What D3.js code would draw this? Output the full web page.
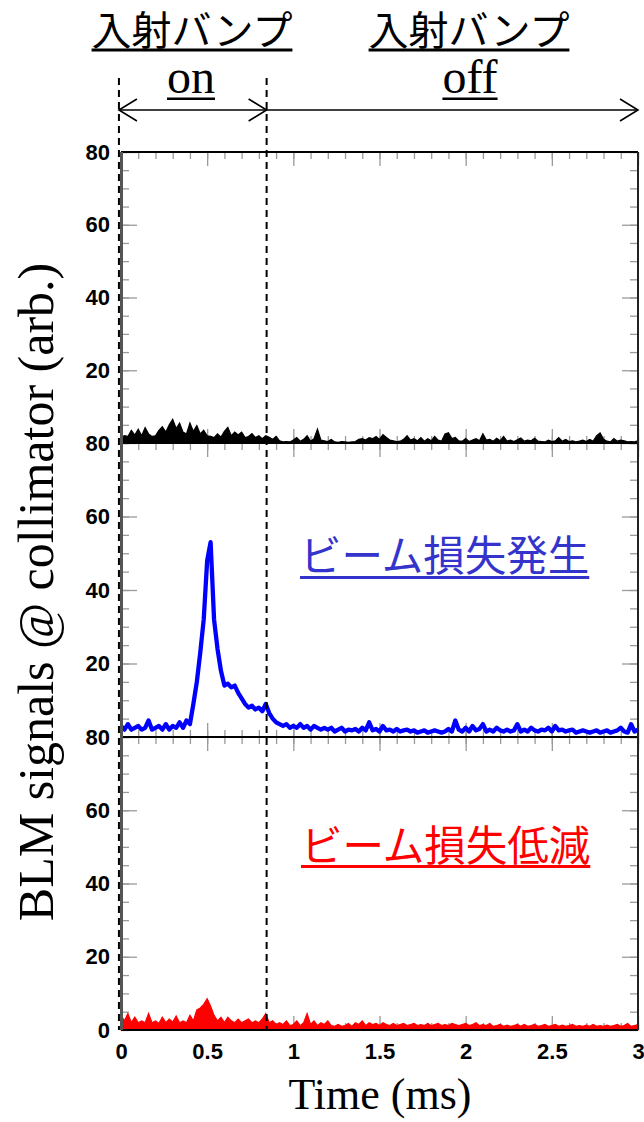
<!DOCTYPE html>
<html lang="ja">
<head>
<meta charset="UTF-8" />
<title>BLM signals @ collimator</title>
<script src="https://cdn.jsdelivr.net/npm/d3@7"></script>
<style>
  * { margin: 0; padding: 0; box-sizing: border-box; }
  body { background: #fff; width: 644px; height: 1122px; overflow: hidden; }
  svg { display: block; }
</style>
</head>
<body>
<svg id="chart" width="644" height="1122"></svg>
<script>
// sampling step of the traces (ms), one value every dt from 0 to 3 ms
const dt = 0.02;
const timeTicks = [0, 0.5, 1, 1.5, 2, 2.5, 3];
const timeLabels = ["0", "0.5", "1", "1.5", "2", "2.5", "3"];
const yTicks = [20, 40, 60, 80];
// bump on / off boundaries (ms)
const bumpEdges = [-0.012, 0.845];
const headerLabels = ["入射バンプ", "入射バンプ"];
const phaseLabels = ["on", "off"];
const panelNotes = ["", "ビーム損失発生", "ビーム損失低減"];

// top panel : reference (black, filled)
const blackTrace = [
  1.5, 2.0, 1.8, 3.5, 2.2, 3.8, 2.0, 4.2, 2.5, 1.8,
  2.0, 3.5, 4.5, 3.0, 5.0, 6.5, 4.0, 5.5, 3.0, 2.5,
  5.5, 3.2, 4.8, 2.5, 3.5, 2.0, 1.8, 1.5, 2.5, 1.6,
  3.2, 4.3, 2.0, 3.0, 2.2, 3.0, 1.5, 1.8, 2.6, 1.5,
  2.0, 1.2, 2.0, 1.6, 1.0, 1.8, 0.6, 0.3, 0.4, 0.3,
  0.8, 1.5, 0.5, 1.0, 2.0, 0.5, 1.2, 3.8, 0.8, 0.6,
  0.4, 1.0, 0.3, 0.2, 0.4, 0.3, 0.2, 0.3, 0.4, 1.0,
  1.2, 0.8, 1.5, 1.2, 1.8, 1.0, 2.3, 1.5, 0.8, 0.6,
  0.4, 0.5, 1.0, 2.0, 0.8, 1.2, 0.6, 1.5, 0.5, 1.2,
  0.6, 1.8, 0.8, 0.5, 2.5, 2.8, 1.2, 1.5, 0.6, 0.5,
  1.2, 0.4, 0.8, 1.2, 0.6, 2.5, 0.8, 1.0, 0.5, 1.3,
  0.6, 1.8, 0.5, 0.8, 0.4, 0.9, 1.4, 0.5, 0.8, 0.6,
  1.3, 0.5, 0.4, 0.3, 0.8, 0.4, 0.6, 1.5, 0.5, 1.0,
  0.4, 0.6, 0.3, 0.5, 0.8, 0.4, 1.0, 0.5, 2.0, 2.8,
  1.0, 0.5, 0.3, 1.2, 0.5, 0.8, 0.6, 0.3, 0.4, 0.3,
  0.6
];

// middle panel : beam loss (blue line)
const blueTrace = [
  3, 2, 3.5, 2, 2.5, 3, 2, 2.5, 4.5, 2,
  2.5, 3, 2, 3.5, 2, 3, 2.5, 4, 2.5, 4.5,
  3.5, 9, 15, 23, 32, 48, 53, 32, 24, 18,
  14, 14.5, 13.5, 14, 12, 10.5, 9, 8, 8.5, 7.5,
  8, 7, 9, 6.5, 5, 4, 3.5, 3, 3.5, 2.5,
  3, 2.5, 3.5, 2.5, 3, 2, 3, 2.5, 2, 2.5,
  2, 2.5, 1.5, 2, 2.5, 1.5, 2, 1.8, 2.2, 1.5,
  2.5, 1.8, 4, 1.8, 2.2, 1.5, 3, 1.8, 2, 1.5,
  2.2, 1.5, 1.8, 2, 1.5, 1.8, 1.2, 1.5, 1.8, 1.2,
  1.5, 1.8, 1.5, 1.2, 1.5, 2.2, 1.5, 4.5, 2, 1.5,
  2.5, 1.5, 3, 1.8, 2.2, 3.5, 1.5, 2, 1.5, 2.5,
  1.8, 1.5, 2, 1.5, 1.8, 3.5, 1.5, 2, 1.5, 2.5,
  1.8, 1.5, 2, 1.8, 2.5, 1.5, 3, 1.8, 2, 1.5,
  1.8, 2, 1.2, 1.5, 1.8, 1.5, 1.2, 1.5, 1.8, 1.2,
  1.5, 1.8, 1.2, 1.5, 1.8, 2.5, 1.5, 1.2, 3.5, 1.5,
  2
];

// bottom panel : reduced loss (red, filled)
const redTrace = [
  4, 2.5, 4.5, 2, 3.5, 2, 2.5, 2, 4.5, 2,
  2.5, 1.8, 3.5, 2, 3, 2.2, 3.8, 2, 2.5, 2,
  4, 2.5, 5.5, 6, 7, 8.5, 6.5, 4, 2.5, 3.5,
  2, 3.5, 2.5, 2, 3, 2, 2.5, 3, 2, 2.5,
  2, 3, 4.5, 2, 2.5, 1.5, 2, 1.5, 2.5, 1.2,
  1.5, 2.5, 1.2, 2, 4.5, 1.5, 2.5, 1.2, 2, 1.5,
  2.5, 1.2, 1, 1.5, 1, 1.2, 1.8, 1, 2, 1.5,
  2.5, 1.2, 2, 1.5, 1.8, 1.2, 2, 1.5, 1.2, 1.8,
  1.2, 1.5, 1.8, 1.2, 1.5, 1.8, 1.2, 1.5, 1.2, 1.8,
  1.2, 1.5, 1.8, 1.2, 1.5, 1.2, 1.8, 1.5, 1.2, 1.5,
  1.8, 1.2, 1.5, 2, 1.2, 1.5, 1.2, 1.8, 1, 1.2,
  1.5, 1, 1.3, 1, 1.2, 1.5, 1, 1.5, 1, 1.2,
  1.5, 1, 1.2, 1.5, 1, 1.2, 1.5, 1, 1.3, 1,
  1.2, 1.5, 1, 1.2, 1, 1.3, 1, 1.5, 1, 1.2,
  1, 1.3, 1, 1.2, 1.5, 1, 1.2, 1.8, 1, 1.2,
  1.5
];

const svg = d3.select("#chart");
const sansCJK = "'Noto Sans CJK JP', 'Noto Sans', sans-serif";
const serif = "'Liberation Serif', 'DejaVu Serif', serif";

// frame of the three stacked pads
const left = 121, right = 638;
const panelTop = [152, 443, 737];
const panelBottom = [443, 737, 1030];

const x = d3.scaleLinear().domain([0, 3]).range([left, right]);
const minorX = d3.range(0, 3.0001, 0.1);
const minorY = d3.range(0, 80.001, 5);

const panels = [
  { data: blackTrace, kind: "area", color: "#000" },
  { data: blueTrace, kind: "line", color: "#0000ff", note: "#3434cc" },
  { data: redTrace, kind: "area", color: "#ff0000", note: "#ff0000" }
];

function greyTicks(g) {
  g.select(".domain").remove();
  g.selectAll("line").attr("stroke", "#9a9a9a").attr("stroke-width", 1.3);
}

const tickLayer = svg.append("g");
const dataLayer = svg.append("g");
const frameLayer = svg.append("g");
const labelLayer = svg.append("g");

panels.forEach((p, i) => {
  const y = d3.scaleLinear().domain([0, 80]).range([panelBottom[i], panelTop[i]]);
  p.y = y;

  // ticks on all four sides, pointing inward
  tickLayer.append("g").attr("transform", `translate(0,${panelTop[i]})`)
    .call(d3.axisBottom(x).tickValues(minorX).tickSize(7).tickFormat("")).call(greyTicks);
  tickLayer.append("g").attr("transform", `translate(0,${panelTop[i]})`)
    .call(d3.axisBottom(x).tickValues(timeTicks).tickSize(14).tickFormat("")).call(greyTicks);
  tickLayer.append("g").attr("transform", `translate(0,${panelBottom[i]})`)
    .call(d3.axisTop(x).tickValues(minorX).tickSize(7).tickFormat("")).call(greyTicks);
  tickLayer.append("g").attr("transform", `translate(0,${panelBottom[i]})`)
    .call(d3.axisTop(x).tickValues(timeTicks).tickSize(14).tickFormat("")).call(greyTicks);
  tickLayer.append("g").attr("transform", `translate(${left},0)`)
    .call(d3.axisRight(y).tickValues(minorY).tickSize(8).tickFormat("")).call(greyTicks);
  tickLayer.append("g").attr("transform", `translate(${left},0)`)
    .call(d3.axisRight(y).tickValues(yTicks).tickSize(16).tickFormat("")).call(greyTicks);
  tickLayer.append("g").attr("transform", `translate(${right},0)`)
    .call(d3.axisLeft(y).tickValues(minorY).tickSize(8).tickFormat("")).call(greyTicks);
  tickLayer.append("g").attr("transform", `translate(${right},0)`)
    .call(d3.axisLeft(y).tickValues(yTicks).tickSize(16).tickFormat("")).call(greyTicks);

  // y tick labels (the 0 of upper pads is hidden under the 80 of the next one)
  const yl = labelLayer.append("g").attr("transform", `translate(${left},0)`)
    .call(d3.axisLeft(y).tickValues(i === 2 ? [0].concat(yTicks) : yTicks).tickSize(0).tickPadding(11));
  yl.select(".domain").remove();
  yl.attr("font-family", "'Liberation Sans', Arial, sans-serif")
    .attr("font-size", 22).attr("font-weight", "bold");

  // trace
  if (p.kind === "area") {
    const area = d3.area().x((d, k) => x(k * dt)).y0(y(0)).y1(d => y(d));
    dataLayer.append("path").datum(p.data).attr("d", area)
      .attr("fill", p.color).attr("stroke", p.color).attr("stroke-width", 1.2);
  } else {
    const line = d3.line().x((d, k) => x(k * dt)).y(d => y(d));
    dataLayer.append("path").datum(p.data).attr("d", line)
      .attr("fill", "none").attr("stroke", p.color)
      .attr("stroke-width", 4.3).attr("stroke-linejoin", "round");
  }

  // bottom edge of each pad
  frameLayer.append("line")
    .attr("x1", left).attr("x2", right)
    .attr("y1", panelBottom[i]).attr("y2", panelBottom[i])
    .attr("stroke", "#000").attr("stroke-width", 2);
});

// outer frame
frameLayer.append("line").attr("x1", left).attr("x2", right)
  .attr("y1", panelTop[0]).attr("y2", panelTop[0])
  .attr("stroke", "#000").attr("stroke-width", 2);
frameLayer.append("line").attr("x1", right).attr("x2", right)
  .attr("y1", panelTop[0]).attr("y2", panelBottom[2])
  .attr("stroke", "#222").attr("stroke-width", 2);
frameLayer.append("line").attr("x1", left + 0.5).attr("x2", left + 0.5)
  .attr("y1", panelTop[0]).attr("y2", panelBottom[2])
  .attr("stroke", "#555").attr("stroke-width", 3);

// x tick labels under the bottom pad
const xl = labelLayer.append("g").attr("transform", `translate(0,${panelBottom[2]})`)
  .call(d3.axisBottom(x).tickValues(timeTicks).tickSize(0).tickPadding(13)
    .tickFormat((d, k) => timeLabels[k]));
xl.select(".domain").remove();
xl.attr("font-family", "'Liberation Sans', Arial, sans-serif")
  .attr("font-size", 22).attr("font-weight", "bold");

// dashed lines marking the bump on / off
bumpEdges.forEach(t => {
  labelLayer.append("line")
    .attr("x1", x(t)).attr("x2", x(t)).attr("y1", 78).attr("y2", panelBottom[2])
    .attr("stroke", "#000").attr("stroke-width", 2).attr("stroke-dasharray", "7,5");
});

// arrows
const arrowY = 110;
labelLayer.append("line")
  .attr("x1", x(bumpEdges[0])).attr("x2", x(3)).attr("y1", arrowY).attr("y2", arrowY)
  .attr("stroke", "#000").attr("stroke-width", 1.6);
[[bumpEdges[0], 1], [bumpEdges[1], -1], [3, -1]].forEach(([t, dir]) => {
  const tip = x(t);
  labelLayer.append("polyline")
    .attr("points", [[tip + 18 * dir, arrowY - 11], [tip, arrowY], [tip + 18 * dir, arrowY + 11]].join(" "))
    .attr("fill", "none").attr("stroke", "#000").attr("stroke-width", 1.6);
});

function underlined(text, cx, baseline, size, family, color, lineY, lineH, anchorStart) {
  const t = labelLayer.append("text")
    .attr("x", cx).attr("y", baseline)
    .attr("text-anchor", anchorStart ? "start" : "middle")
    .attr("font-family", family).attr("font-size", size)
    .attr("fill", color).text(text);
  const b = t.node().getBBox();
  labelLayer.append("rect")
    .attr("x", b.x).attr("y", lineY).attr("width", b.width).attr("height", lineH)
    .attr("fill", color);
}

underlined(headerLabels[0], 192, 45, 40, sansCJK, "#000", 48.5, 3);
underlined(headerLabels[1], 469, 45, 40, sansCJK, "#000", 48.5, 3);
underlined(phaseLabels[0], 191, 93, 48, serif, "#000", 97.5, 2.5);
underlined(phaseLabels[1], 470, 93, 48, serif, "#000", 97.5, 2.5);
underlined(panelNotes[1], 300, 571, 41.5, sansCJK, panels[1].note, 576, 3, true);
underlined(panelNotes[2], 301, 861, 41.5, sansCJK, panels[2].note, 865, 3, true);

// axis titles
labelLayer.append("text")
  .attr("transform", "translate(53,592) rotate(-90)")
  .attr("text-anchor", "middle")
  .attr("font-family", serif).attr("font-size", 50)
  .text("BLM signals @ collimator (arb.)");
labelLayer.append("text")
  .attr("x", 380).attr("y", 1109)
  .attr("text-anchor", "middle")
  .attr("font-family", serif).attr("font-size", 44)
  .text("Time (ms)");
</script>
</body>
</html>
